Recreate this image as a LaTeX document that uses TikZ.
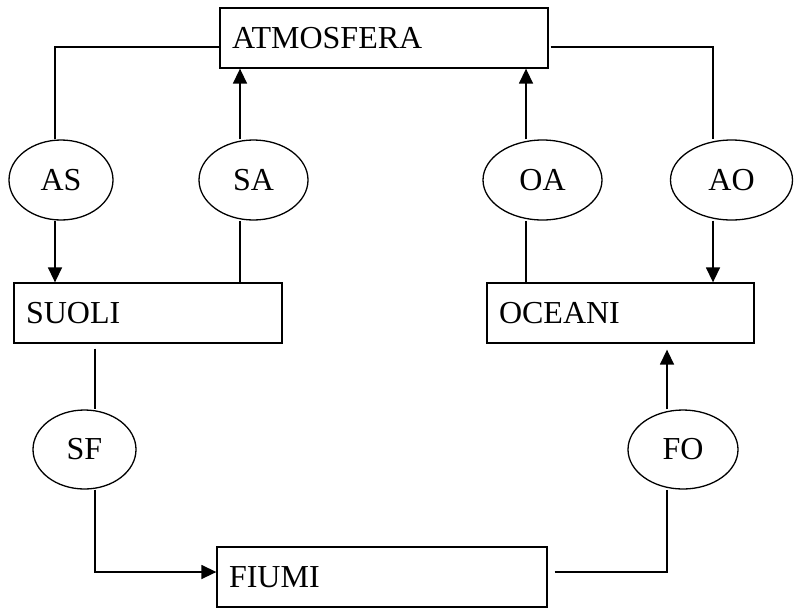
\documentclass[tikz,border=0pt]{standalone}
\usepackage{fontspec}
\setmainfont{Liberation Serif}
\usetikzlibrary{shapes.geometric,arrows.meta}
\begin{document}
\begin{tikzpicture}[x=1pt,y=-1pt,
  every node/.style={font=\fontsize{32}{38}\selectfont},
  box/.style={draw, line width=1.3pt, minimum height=60pt, inner xsep=12pt, inner ysep=0pt, align=left},
  oval/.style={draw, ellipse, line width=1.3pt, minimum height=80pt, inner sep=0pt},
  conn/.style={line width=1.5pt},
  arr/.style={conn, -{Triangle[length=15pt,width=14pt]}}]
\useasboundingbox (0,0) rectangle (794,611);
% boxes
\node[box, text width=304pt] (atm) at (384,38) {ATMOSFERA};
\node[box, text width=244pt] (suoli) at (148,313) {SUOLI};
\node[box, text width=243pt] (oceani) at (620.5,313) {OCEANI};
\node[box, text width=306pt] (fiumi) at (382,577) {FIUMI};
% ellipses
\node[oval, minimum width=104pt] (as) at (61,180) {AS};
\node[oval, minimum width=109pt] (sa) at (253.5,180) {SA};
\node[oval, minimum width=119pt] (oa) at (542.5,180) {OA};
\node[oval, minimum width=122pt] (ao) at (731.5,180) {AO};
\node[oval, minimum width=103pt, minimum height=79pt] (sf) at (84.5,449.5) {SF};
\node[oval, minimum width=110pt, minimum height=79pt] (fo) at (683,449.5) {FO};
% corner coordinates
\coordinate (c1) at (55,47);
\coordinate (c2) at (713,47);
\coordinate (c3) at (95,572);
\coordinate (c4) at (667,572);
\coordinate (xsa) at (240,0);
\coordinate (xoa) at (526,0);
% AS
\draw[conn] (atm.west |- c1) -- (c1) -- (as.north -| c1);
\draw[arr] (as.south -| c1) -- (suoli.north -| c1);
% SA
\draw[conn] (suoli.north -| xsa) -- (sa.south -| xsa);
\draw[arr] (sa.north -| xsa) -- (atm.south -| xsa);
% OA
\draw[conn] (oceani.north -| xoa) -- (oa.south -| xoa);
\draw[arr] (oa.north -| xoa) -- (atm.south -| xoa);
% AO
\draw[conn, shorten <=2pt] (atm.east |- c2) -- (c2) -- (ao.north -| c2);
\draw[arr] (ao.south -| c2) -- (oceani.north -| c2);
% SF
\draw[conn, shorten <=5pt] (suoli.south -| c3) -- (sf.north -| c3);
\draw[arr] (sf.south -| c3) -- (c3) -- (fiumi.west |- c3);
% FO
\draw[conn, shorten <=7pt] (fiumi.east |- c4) -- (c4) -- (fo.south -| c4);
\draw[arr, shorten >=6pt] (fo.north -| c4) -- (oceani.south -| c4);
\end{tikzpicture}
\end{document}
